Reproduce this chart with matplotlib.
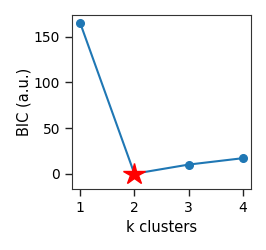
import matplotlib
matplotlib.use("Agg")
import matplotlib.pyplot as plt

k = [1, 2, 3, 4]
bic = [165, 0, 10, 17]
best_k = 2
best_bic = 0

fig = plt.figure(figsize=(2.66, 2.5), dpi=100)
ax = fig.add_axes([72/266, 1-189/250, (251-72)/266, (189-15)/250])
ax.plot(k, bic, '-o', color='#1f77b4', markersize=5.5, linewidth=1.5)
ax.plot([best_k], [best_bic], marker='*', color='red', markersize=16, linestyle='none')
ax.set_xticks(k)
ax.set_yticks([0, 50, 100, 150])
ax.set_ylim(-16.7, 173.6)
ax.set_xlim(0.85, 4.15)
ax.set_xlabel('k clusters', fontsize=10.5, labelpad=4)
ax.set_ylabel('BIC (a.u.)', fontsize=10.5, labelpad=2)
ax.tick_params(labelsize=10, length=5, width=1, color='#222222')
for s in ax.spines.values():
    s.set_color('#333333')
fig.savefig('out.png', dpi=100)
